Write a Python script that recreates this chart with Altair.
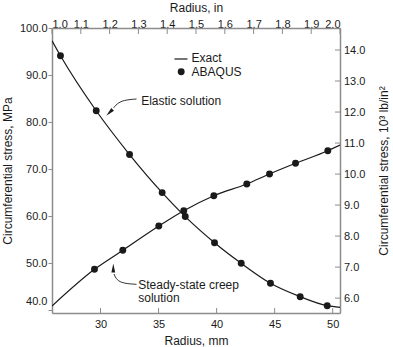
import altair as alt
import pandas as pd

W, H = 288, 285
FONT = "Liberation Sans"
AX = "#8c8c8c"
INK = "#1a1a1a"

# ---------------- data ----------------
# ABAQUS results (radius in mm, circumferential stress in MPa)
elastic_r = [26.55, 29.63, 32.50, 35.31, 37.30, 39.82, 42.12, 44.64, 47.20, 49.53]
elastic_abaqus = [94.1, 82.4, 73.1, 65.0, 59.9, 54.35, 49.97, 45.72, 42.87, 40.95]
creep_r = [29.48, 31.92, 35.02, 37.17, 39.76, 42.60, 44.56, 46.80, 49.58]
creep_abaqus = [48.69, 52.73, 57.90, 61.15, 64.34, 66.83, 68.96, 71.23, 73.91]

# exact solutions
exact_elastic_r = [25.82, 26.55, 29.63, 32.50, 35.31, 37.30, 39.82, 42.12, 44.64, 47.20, 49.53, 50.63]
exact_elastic = [97.3, 94.1, 82.4, 73.1, 65.0, 59.9, 54.35, 49.97, 45.72, 42.87, 40.95, 40.6]
exact_creep_r = [25.82, 29.48, 31.92, 35.02, 37.17, 39.76, 42.60, 44.56, 46.80, 49.58, 50.63]
exact_creep = [40.89, 48.69, 52.73, 57.90, 61.15, 64.34, 66.83, 68.96, 71.23, 73.91, 75.1]

# axes
mm_ticks = [30, 35, 40, 45, 50]
in_ticks = [1.0, 1.1, 1.2, 1.3, 1.4, 1.5, 1.6, 1.7, 1.8, 1.9, 2.0]
mpa_ticks = [40, 50, 60, 70, 80, 90, 100]
ksi_ticks = [6, 7, 8, 9, 10, 11, 12, 13, 14]
mm_dom = [25.82, 50.63]
mpa_dom = [39.4, 100.0]
in_dom = [1.0, 2.0]
ksi_dom = [5.52, 14.71]

# annotations / legend (data coordinates)
label_text = ["Exact", "ABAQUS", "Elastic solution", "Steady-state creep", "solution"]
label_r = [37.84, 37.84, 33.50, 33.25, 33.25]
label_s = [92.71, 89.79, 83.63, 44.55, 41.70]
legend_line_r = [36.37, 37.49]
legend_line_s = [93.41, 93.41]
legend_dot_r = [36.95]
legend_dot_s = [90.71]
lead_el_r = [33.10, 31.98, 31.38, 31.12]
lead_el_s = [84.90, 84.69, 83.84, 82.99]
lead_cr_r = [33.10, 31.98, 31.38, 31.16]
lead_cr_s = [45.50, 45.67, 46.42, 47.69]
head_el = (30.77, 82.03)
head_cr = (31.10, 48.97)

# ---------------- encodings ----------------
x_axis = alt.Axis(orient="bottom", title="Radius, mm", values=mm_ticks, format="d",
                  ticks=False, tickSize=0, labelPadding=5,
                  titleY=31.5, titleBaseline="alphabetic")
y_axis = alt.Axis(orient="left", title="Circumferential stress, MPa", values=mpa_ticks,
                  format=".1f", ticks=True, tickSize=4, labelPadding=1,
                  labelOffset={"condition": {"test": "datum.value === 40", "value": -9}, "value": 0},
                  titleAngle=270, titleX=-40.5, titleBaseline="alphabetic")
X = alt.X("r:Q", scale=alt.Scale(domain=mm_dom, nice=False, zero=False), axis=x_axis)
Y = alt.Y("s:Q", scale=alt.Scale(domain=mpa_dom, nice=False, zero=False), axis=y_axis)

exact_df = pd.DataFrame({
    "r": exact_elastic_r + exact_creep_r,
    "s": exact_elastic + exact_creep,
    "series": ["elastic"] * len(exact_elastic_r) + ["creep"] * len(exact_creep_r),
})
dots_df = pd.DataFrame({"r": elastic_r + creep_r, "s": elastic_abaqus + creep_abaqus})

lines = alt.Chart(exact_df).mark_line(color=INK, strokeWidth=1.2, interpolate="monotone", clip=True).encode(
    x=X, y=Y, detail="series:N")
dots = alt.Chart(dots_df).mark_circle(size=48, color=INK, opacity=1).encode(x=X, y=Y)

bottom_ticks = alt.Chart(pd.DataFrame({"r": mm_ticks})).mark_rule(color=AX, strokeWidth=1).encode(
    x=X, y=alt.value(H), y2=alt.value(H - 5))

leg_line = alt.Chart(pd.DataFrame({"r": legend_line_r, "s": legend_line_s})).mark_line(
    color=INK, strokeWidth=1.2).encode(x=X, y=Y)
leg_dot = alt.Chart(pd.DataFrame({"r": legend_dot_r, "s": legend_dot_s})).mark_circle(
    size=48, color=INK, opacity=1).encode(x=X, y=Y)

texts = alt.Chart(pd.DataFrame({"r": label_r, "s": label_s, "t": label_text})).mark_text(
    font=FONT, fontSize=12, align="left", baseline="alphabetic", color=INK).encode(
    x=X, y=Y, text="t:N")

lead_df = pd.DataFrame({
    "r": lead_el_r + lead_cr_r,
    "s": lead_el_s + lead_cr_s,
    "k": ["el"] * 4 + ["cr"] * 4,
    "o": list(range(4)) + list(range(4)),
})
leaders = alt.Chart(lead_df).mark_line(color=INK, strokeWidth=0.9, interpolate="basis").encode(
    x=X, y=Y, detail="k:N", order="o:Q")

ARROW = "M0,-1L0.42,1L-0.42,1Z"
head1 = alt.Chart(pd.DataFrame({"r": [head_el[0]], "s": [head_el[1]]})).mark_point(
    shape=ARROW, filled=True, size=81, angle=225, color=INK, opacity=1).encode(x=X, y=Y)
head2 = alt.Chart(pd.DataFrame({"r": [head_cr[0]], "s": [head_cr[1]]})).mark_point(
    shape=ARROW, filled=True, size=81, angle=0, color=INK, opacity=1).encode(x=X, y=Y)

main = alt.layer(lines, dots, bottom_ticks, leg_line, leg_dot, texts, leaders, head1, head2)

# ---------------- secondary axes (inches, ksi) ----------------
top_axis = alt.Axis(orient="top", title="Radius, in", values=in_ticks, format=".1f",
                    ticks=False, tickSize=0, labelPadding=1, labelBaseline="alphabetic",
                    titleY=-16.5, titleBaseline="alphabetic")
right_axis = alt.Axis(orient="right", title="Circumferential stress, 10³ lb/in²", values=ksi_ticks,
                      format=".1f", ticks=False, tickSize=0, labelPadding=3.5,
                      titleAngle=270, titleX=47.5, titleBaseline="alphabetic")
XI = alt.X("inch:Q", scale=alt.Scale(domain=in_dom, nice=False, zero=False), axis=top_axis)
YK = alt.Y("ksi:Q", scale=alt.Scale(domain=ksi_dom, nice=False, zero=False), axis=right_axis)

top_ticks = alt.Chart(pd.DataFrame({"inch": in_ticks})).mark_rule(color=AX, strokeWidth=1).encode(
    x=XI, y=alt.value(0), y2=alt.value(6))
right_ticks = alt.Chart(pd.DataFrame({"ksi": ksi_ticks})).mark_rule(color=AX, strokeWidth=1).encode(
    y=YK, x=alt.value(W), x2=alt.value(W - 5))
secondary = alt.layer(top_ticks, right_ticks)

chart = alt.layer(main, secondary).resolve_scale(x="independent", y="independent").properties(
    width=W, height=H,
    padding={"left": 52, "top": 28, "right": 53, "bottom": 34},
    autosize=alt.AutoSizeParams(type="none"),
).configure_axis(
    domainColor=AX, domainWidth=1.5, tickColor=AX, grid=False,
    labelFont=FONT, labelFontSize=11, labelColor=INK,
    titleFont=FONT, titleFontSize=12, titleFontWeight="normal", titleColor=INK,
).configure_view(stroke=None)

chart.save("out.html", embed_options={"renderer": "svg", "actions": False})
